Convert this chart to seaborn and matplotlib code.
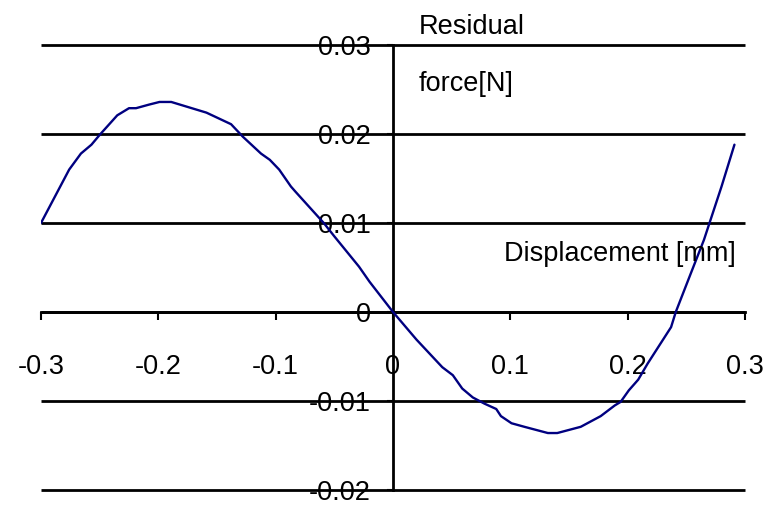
import matplotlib
matplotlib.use("Agg")
import matplotlib.pyplot as plt
import seaborn as sns
import pandas as pd

# Residual force vs. displacement samples
displacement_mm = [
    -0.300, -0.276, -0.266, -0.257, -0.250, -0.235, -0.225, -0.219, -0.208, -0.199,
    -0.189, -0.159, -0.138, -0.128, -0.1125, -0.105, -0.097, -0.087, -0.083, -0.059,
    -0.050, -0.029, -0.020, 0.000, 0.020, 0.042, 0.051, 0.059, 0.068, 0.078,
    0.088, 0.092, 0.101, 0.112, 0.132, 0.140, 0.160, 0.177, 0.189, 0.194,
    0.201, 0.209, 0.217, 0.237, 0.241, 0.254, 0.265, 0.2725, 0.280, 0.291,
]
residual_force_N = [
    0.0100, 0.0160, 0.0178, 0.0188, 0.0199, 0.0221, 0.0229, 0.0229, 0.0233, 0.0236,
    0.0236, 0.0224, 0.0211, 0.0197, 0.0178, 0.0171, 0.0160, 0.0141, 0.0135, 0.0100,
    0.0085, 0.0051, 0.0034, 0.0000, -0.0031, -0.0062, -0.0071, -0.0086, -0.0096, -0.0103,
    -0.0109, -0.0117, -0.0125, -0.0129, -0.0136, -0.0136, -0.0129, -0.0117, -0.0105, -0.0101,
    -0.0088, -0.0076, -0.0058, -0.0017, 0.0000, 0.0044, 0.0081, 0.0111, 0.0141, 0.0188,
]

x_ticks = [-0.3, -0.2, -0.1, 0, 0.1, 0.2, 0.3]
x_tick_labels = ["-0.3", "-0.2", "-0.1", "0", "0.1", "0.2", "0.3"]
y_ticks = [-0.02, -0.01, 0, 0.01, 0.02, 0.03]
y_tick_labels = ["-0.02", "-0.01", "0", "0.01", "0.02", "0.03"]

sns.set_style("white")
plt.rcParams["font.family"] = ["Liberation Sans", "DejaVu Sans"]
plt.rcParams["text.color"] = "black"
FS = 19.5

df = pd.DataFrame({"disp": displacement_mm, "force": residual_force_N})

fig = plt.figure(figsize=(7.76, 5.05), dpi=100)
ax = fig.add_axes([41 / 776, 1 - 490 / 505, 704 / 776, 445 / 505])

# horizontal grid lines across the full plot width
ax.hlines(y_ticks, x_ticks[0], x_ticks[-1], colors="black", linewidth=2.0,
          clip_on=False, zorder=1)

sns.lineplot(data=df, x="disp", y="force", ax=ax, color="#000080",
             linewidth=1.7, estimator=None, sort=False, zorder=3)

ax.set_xlim(-0.3, 0.3)
ax.set_ylim(-0.02, 0.03)

# axes crossing at the origin
for side in ("top", "right"):
    ax.spines[side].set_visible(False)
for side in ("left", "bottom"):
    ax.spines[side].set_position(("data", 0))
    ax.spines[side].set_linewidth(2.0)
    ax.spines[side].set_color("black")
ax.spines["left"].set_zorder(2)

ax.set_xticks(x_ticks)
ax.set_xticklabels(x_tick_labels)
ax.set_yticks(y_ticks)
ax.set_yticklabels(y_tick_labels)
ax.tick_params(axis="x", bottom=True, direction="out", length=6, width=1.5,
               pad=24, labelsize=FS, colors="black")
ax.tick_params(axis="y", left=True, direction="out", length=4.5, width=1.5,
               pad=11.5, labelsize=FS, colors="black")
ax.set_xlabel("")
ax.set_ylabel("")

ax.text(0.022, 0.0312, "Residual", ha="left", va="baseline", fontsize=FS, color="black")
ax.text(0.022, 0.0248, "force[N]", ha="left", va="baseline", fontsize=FS, color="black")
ax.text(0.2925, 0.0057, "Displacement [mm]", ha="right", va="baseline",
        fontsize=FS, color="black")

fig.savefig("out.png", dpi=100)
